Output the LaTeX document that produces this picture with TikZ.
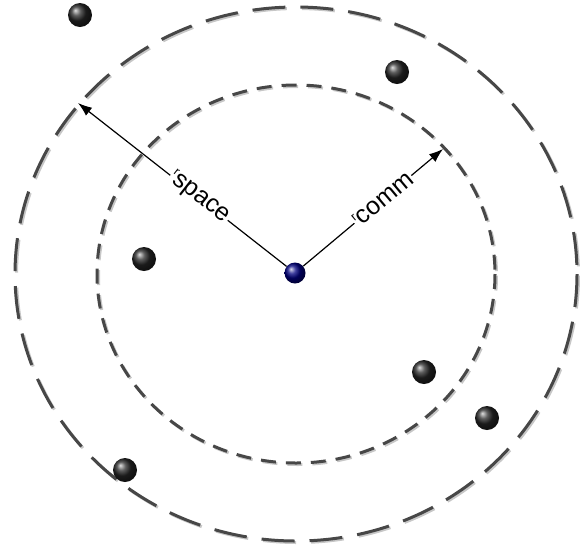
\documentclass[tikz,border=0pt]{standalone}
\usepackage{fontspec}
\setmainfont{Liberation Sans}
\usetikzlibrary{arrows.meta,shadings}
\tikzset{
  ring/.style={draw=black!72, line width=3pt},
  ringshadow/.style={draw=black!22, line width=3pt},
  outerdash/.style={dash pattern=on 33pt off 15pt},
  innerdash/.style={dash pattern=on 15pt off 10pt},
  node ball/.style={circle, minimum size=24pt, inner sep=0pt, shading=ball, ball color=black!85},
  hub ball/.style={circle, minimum size=21pt, inner sep=0pt, shading=ball, ball color=blue!50!black},
  radius arrow/.style={draw=black, line width=1.2pt, -{Latex[length=14pt,width=10pt]}},
  radius label/.style={fill=white, inner sep=1pt, sloped, font=\fontsize{25}{25}\selectfont},
}
\newcommand{\tinyr}{\raisebox{8pt}{\fontsize{12}{12}\selectfont r}}
\begin{document}
\begin{tikzpicture}[x=1pt,y=-1pt]
  \useasboundingbox (0,0) rectangle (580,550);
  % rings (with faint shadow)
  \draw[ringshadow,outerdash] (297.5,275.5) ellipse [x radius=281, y radius=267];
  \draw[ring,outerdash] (296,274) ellipse [x radius=281, y radius=267];
  \draw[ringshadow,innerdash] (297.5,275.5) ellipse [x radius=199, y radius=189];
  \draw[ring,innerdash] (296,274) ellipse [x radius=199, y radius=189];
  % end points on the rings
  \coordinate (spaceend) at (78,103);
  \coordinate (commend) at (443,149);
  % hub
  \node[hub ball] (hub) at (295,273) {};
  % radii
  \draw[radius arrow] (hub) -- node[radius label, pos=0.42] {\tinyr space} (spaceend);
  \draw[radius arrow] (hub) -- node[radius label, pos=0.57] {\tinyr comm} (commend);
  % other nodes
  \node[node ball] (n1) at (80,15) {};
  \node[node ball] (n2) at (397,72) {};
  \node[node ball] (n3) at (144,259) {};
  \node[node ball] (n4) at (424,372) {};
  \node[node ball] (n5) at (487,418) {};
  \node[node ball] (n6) at (125,470) {};
\end{tikzpicture}
\end{document}
